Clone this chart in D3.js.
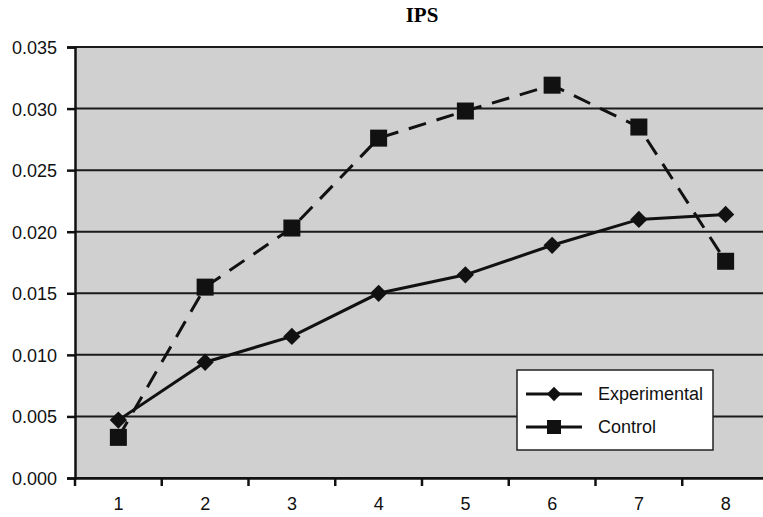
<!DOCTYPE html>
<html>
<head>
<meta charset="utf-8">
<script src="https://cdn.jsdelivr.net/npm/d3@7"></script>
<style>
  body { margin: 0; background: #fff; }
  svg { display: block; }
  .tick text { font-family: "Liberation Sans", Arial, sans-serif; font-size: 18px; fill: #111; }
</style>
</head>
<body>
<div id="chart"></div>
<script>
const width = 763, height = 517;

const categories = ["1", "2", "3", "4", "5", "6", "7", "8"];
const experimental = [0.0047, 0.0094, 0.0115, 0.0150, 0.0165, 0.0189, 0.0210, 0.0214];
const control = [0.0033, 0.0155, 0.0203, 0.0276, 0.0298, 0.0319, 0.0285, 0.0176];
const yTicks = [0, 0.005, 0.010, 0.015, 0.020, 0.025, 0.030, 0.035];

const margin = {left: 75, top: 47, right: -6, bottom: 39};
const plotW = width - margin.left - margin.right;
const plotH = height - margin.top - margin.bottom;

const svg = d3.select("#chart").append("svg")
    .attr("width", width)
    .attr("height", height);

svg.append("text")
    .attr("x", 422)
    .attr("y", 22)
    .attr("text-anchor", "middle")
    .style("font-family", "'Liberation Serif', 'Times New Roman', serif")
    .style("font-weight", "bold")
    .style("font-size", "21px")
    .text("IPS");

const g = svg.append("g")
    .attr("transform", "translate(" + margin.left + "," + margin.top + ")");

let x = d3.scaleBand().domain(categories).range([0, plotW]);
let y = d3.scaleLinear().domain([0, 0.035]).range([plotH, 0]);

g.append("rect")
    .attr("width", plotW)
    .attr("height", plotH)
    .attr("fill", "#d0d0d0");

// gridlines
g.selectAll(".grid")
    .data(yTicks)
    .enter().append("line")
    .attr("class", "grid")
    .attr("x1", 0)
    .attr("x2", plotW)
    .attr("y1", d => y(d))
    .attr("y2", d => y(d))
    .attr("stroke", "#1a1a1a")
    .attr("stroke-width", 2);

// y axis
g.append("g")
    .call(d3.axisLeft(y).tickValues(yTicks).tickFormat(d3.format(".3f")).tickSize(8).tickPadding(10))
    .call(a => a.select(".domain").attr("stroke", "#111").attr("stroke-width", 2.5))
    .call(a => a.selectAll(".tick line").attr("stroke", "#111").attr("stroke-width", 2.5))
    .call(a => a.selectAll(".tick text").attr("dy", "0.36em"));

// x axis with ticks at band edges
const xAxis = g.append("g")
    .attr("transform", "translate(0," + plotH + ")")
    .call(d3.axisBottom(x).tickSize(0).tickPadding(18));
xAxis.select(".domain").attr("stroke", "#111").attr("stroke-width", 2.5);
xAxis.selectAll(".tick text").attr("dy", "0.75em");
xAxis.selectAll(".edge")
    .data(categories)
    .enter().append("line")
    .attr("class", "edge")
    .attr("x1", d => x(d))
    .attr("x2", d => x(d))
    .attr("y1", 0)
    .attr("y2", 8)
    .attr("stroke", "#111")
    .attr("stroke-width", 2.5);

const cx = d => x(d) + x.bandwidth() / 2;
const line = d3.line()
    .x((d, i) => cx(categories[i]))
    .y(d => y(d));

g.append("path")
    .datum(control)
    .attr("d", line)
    .attr("fill", "none")
    .attr("stroke", "#111")
    .attr("stroke-width", 3)
    .attr("stroke-dasharray", "18,11");

g.append("path")
    .datum(experimental)
    .attr("d", line)
    .attr("fill", "none")
    .attr("stroke", "#111")
    .attr("stroke-width", 3);

const diamond = d3.symbol().type(d3.symbolDiamond2).size(190);

g.selectAll(".exp")
    .data(experimental)
    .enter().append("path")
    .attr("class", "exp")
    .attr("d", diamond)
    .attr("transform", (d, i) => "translate(" + cx(categories[i]) + "," + y(d) + ")")
    .attr("fill", "#111");

g.selectAll(".ctl")
    .data(control)
    .enter().append("rect")
    .attr("class", "ctl")
    .attr("x", (d, i) => cx(categories[i]) - 8.5)
    .attr("y", d => y(d) - 8.5)
    .attr("width", 17)
    .attr("height", 17)
    .attr("fill", "#111");

// legend
const lg = svg.append("g").attr("transform", "translate(517,370)");
lg.append("rect")
    .attr("width", 196)
    .attr("height", 80)
    .attr("fill", "#fff")
    .attr("stroke", "#222")
    .attr("stroke-width", 1.5);

const legendItems = ["Experimental", "Control"];
legendItems.forEach(function (name, i) {
    const yy = 24 + i * 33;
    lg.append("line")
        .attr("x1", 9).attr("x2", 65)
        .attr("y1", yy).attr("y2", yy)
        .attr("stroke", "#111").attr("stroke-width", 3);
    if (i === 0) {
        lg.append("path")
            .attr("d", d3.symbol().type(d3.symbolDiamond2).size(130))
            .attr("transform", "translate(37," + yy + ")")
            .attr("fill", "#111");
    } else {
        lg.append("rect")
            .attr("x", 30).attr("y", yy - 7)
            .attr("width", 14).attr("height", 14)
            .attr("fill", "#111");
    }
    lg.append("text")
        .attr("x", 81)
        .attr("y", yy + 6)
        .style("font-family", "'Liberation Sans', Arial, sans-serif")
        .style("font-size", "18px")
        .attr("fill", "#111")
        .text(name);
});
</script>
</body>
</html>
